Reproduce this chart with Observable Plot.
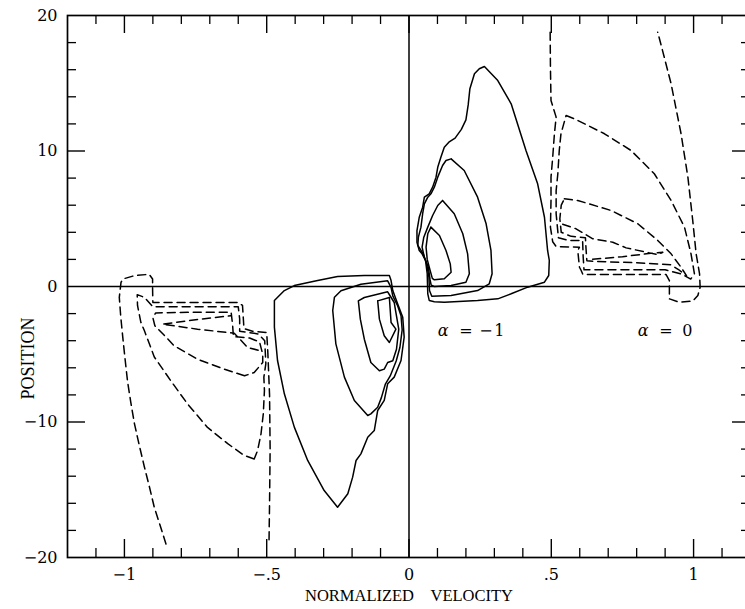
<!DOCTYPE html>
<html>
<head>
<meta charset="utf-8">
<script src="https://cdn.jsdelivr.net/npm/d3@7"></script>
<script src="https://cdn.jsdelivr.net/npm/@observablehq/plot@0.6"></script>
<style>
  html, body { margin: 0; padding: 0; background: #fff; }
  svg { display: block; }
</style>
</head>
<body>
<div id="chart"></div>
<script>
// ---- axis ticks ----
const xMajor = [-1, -0.5, 0, 0.5, 1];
const xMinor = [-1.1, -0.9, -0.8, -0.7, -0.6, -0.4, -0.3, -0.2, -0.1, 0.1, 0.2, 0.3, 0.4, 0.6, 0.7, 0.8, 0.9, 1.1];
const yLabels = [-20, -10, 0, 10, 20];
const yMajor = [-10, 10];
const yMinor = [-18, -16, -14, -12, -8, -6, -4, -2, 2, 4, 6, 8, 12, 14, 16, 18];

// ---- alpha = -1 contours (solid), [velocity, position] ----
const S1 = [[0.265,16.24],[0.247,16.07],[0.230,15.70],[0.214,14.6],[0.208,13.4],[0.200,12.3],[0.184,11.6],[0.162,10.95],[0.140,10.65],[0.124,10.28],[0.112,9.54],[0.101,8.80],[0.095,8.07],[0.083,7.33],[0.071,6.84],[0.054,6.59],[0.048,5.85],[0.036,5.11],[0.028,4.13],[0.028,3.27],[0.036,2.66],[0.046,2.41],[0.058,1.92],[0.064,0.94],[0.066,-0.54],[0.071,-1.03],[0.089,-1.12],[0.124,-1.16],[0.241,-1.03],[0.312,-0.91],[0.359,-0.54],[0.417,-0.05],[0.476,0.32],[0.491,0.81],[0.493,1.92],[0.487,2.66],[0.476,5.11],[0.452,7.58],[0.411,10.04],[0.359,13.48],[0.312,15.20],[0.265,16.24]];
const S2 = [[0.148,9.42],[0.130,9.30],[0.118,8.93],[0.101,8.07],[0.089,7.33],[0.077,6.84],[0.066,6.59],[0.054,6.10],[0.048,5.37],[0.042,4.38],[0.033,3.64],[0.031,3.03],[0.050,2.41],[0.062,1.67],[0.070,0.69],[0.072,-0.30],[0.080,-0.72],[0.148,-0.66],[0.241,-0.30],[0.282,0.20],[0.292,0.94],[0.288,2.66],[0.271,4.63],[0.241,6.59],[0.194,8.56],[0.148,9.42]];
const S3 = [[0.118,6.35],[0.101,5.98],[0.083,5.24],[0.066,4.38],[0.052,3.64],[0.046,2.90],[0.054,2.16],[0.068,1.42],[0.074,0.50],[0.078,0.10],[0.089,0.00],[0.148,0.07],[0.200,0.32],[0.212,0.94],[0.206,2.41],[0.189,3.89],[0.159,5.37],[0.118,6.35]];
const S4 = [[0.077,4.38],[0.066,3.89],[0.060,2.90],[0.064,2.00],[0.074,1.20],[0.082,0.60],[0.089,0.49],[0.124,0.57],[0.148,1.05],[0.145,1.67],[0.130,2.66],[0.107,3.76],[0.077,4.38]];
const N1 = [[-0.473,-1.03],[-0.438,-0.30],[-0.403,0.07],[-0.321,0.44],[-0.251,0.74],[-0.157,0.81],[-0.069,0.81],[-0.063,0.44],[-0.057,-0.30],[-0.040,-1.28],[-0.022,-2.27],[-0.017,-3.74],[-0.028,-5.46],[-0.052,-6.69],[-0.075,-7.18],[-0.087,-8.41],[-0.110,-9.15],[-0.122,-10.63],[-0.145,-11.12],[-0.169,-12.35],[-0.186,-12.84],[-0.198,-14.07],[-0.215,-15.30],[-0.251,-16.29],[-0.298,-15.06],[-0.356,-12.84],[-0.403,-10.38],[-0.438,-7.92],[-0.462,-5.46],[-0.473,-3.00],[-0.473,-1.03]];
const N2 = [[-0.145,-9.52],[-0.192,-8.41],[-0.227,-6.69],[-0.257,-4.23],[-0.268,-1.77],[-0.262,-0.79],[-0.239,-0.32],[-0.169,0.17],[-0.075,0.42],[-0.063,-0.07],[-0.057,-0.69],[-0.040,-1.42],[-0.028,-2.16],[-0.024,-3.20],[-0.032,-4.50],[-0.045,-5.50],[-0.066,-6.60],[-0.083,-7.20],[-0.097,-8.20],[-0.110,-8.91],[-0.134,-9.40],[-0.145,-9.52]];
const N3 = [[-0.104,-6.22],[-0.134,-5.61],[-0.157,-3.89],[-0.171,-2.41],[-0.178,-1.06],[-0.157,-0.81],[-0.075,-0.39],[-0.066,-0.70],[-0.052,-1.18],[-0.046,-1.92],[-0.036,-3.15],[-0.044,-4.63],[-0.057,-5.48],[-0.075,-5.61],[-0.087,-6.10],[-0.104,-6.22]];
const N4 = [[-0.110,-1.06],[-0.069,-0.81],[-0.063,-2.66],[-0.046,-3.15],[-0.069,-4.13],[-0.087,-3.64],[-0.104,-2.41],[-0.110,-1.06]];

// ---- alpha = 0 contours (dashed), [velocity, position] ----
const RD1 = [[0.496,18.77],[0.497,16.19],[0.499,13.73],[0.517,12.50],[0.511,11.27],[0.505,9.54],[0.499,8.07],[0.499,6.35],[0.497,4.38],[0.505,3.30],[0.517,2.95],[0.599,2.90],[0.593,2.66],[0.599,1.42],[0.605,1.18],[0.611,0.89],[0.903,0.89],[0.915,0.44],[0.915,-0.91],[0.950,-1.16],[0.997,-1.08],[1.015,-0.66],[1.023,-0.05],[1.021,0.94],[1.009,2.41],[0.997,4.87],[0.980,8.07],[0.956,11.27],[0.921,14.96],[0.897,16.92],[0.874,18.77]];
const RD2 = [[0.552,12.62],[0.581,12.38],[0.687,11.27],[0.780,10.04],[0.862,8.32],[0.921,6.35],[0.968,4.38],[0.991,2.41],[1.003,0.94],[0.990,0.55],[0.960,0.90],[0.900,1.23],[0.750,1.23],[0.615,1.23],[0.612,2.20],[0.610,3.40],[0.560,3.40],[0.525,3.60],[0.517,5.37],[0.517,7.08],[0.523,8.32],[0.528,10.04],[0.534,11.27],[0.552,12.62]];
const RD3 = [[0.546,6.47],[0.593,6.35],[0.710,5.61],[0.804,4.63],[0.874,3.40],[0.921,2.41],[0.956,1.42],[0.975,0.80],[0.950,1.20],[0.920,1.60],[0.800,1.75],[0.660,1.85],[0.625,1.90],[0.622,2.80],[0.620,3.60],[0.570,3.70],[0.535,4.00],[0.530,5.00],[0.535,6.00],[0.546,6.47]];
const RD4 = [[0.540,4.60],[0.587,4.26],[0.646,3.52],[0.716,3.27],[0.763,2.85],[0.874,2.35],[0.892,2.53],[0.850,2.45],[0.750,2.20],[0.640,2.00]];
const LD1 = [[-0.854,-19.0],[-0.875,-17.6],[-0.895,-16.3],[-0.912,-14.8],[-0.930,-13.3],[-0.948,-11.7],[-0.965,-10.1],[-0.978,-8.5],[-0.989,-7.0],[-0.998,-5.3],[-1.006,-3.7],[-1.013,-2.2],[-1.018,-0.8],[-1.012,0.30],[-1.006,0.55],[-0.965,0.80],[-0.913,0.90],[-0.901,0.55],[-0.901,-0.20],[-0.900,-1.18],[-0.750,-1.18],[-0.600,-1.18],[-0.585,-1.40],[-0.580,-3.10],[-0.550,-3.30],[-0.500,-3.40],[-0.496,-4.90],[-0.490,-8.00],[-0.488,-12.0],[-0.490,-16.0],[-0.492,-19.0]];
const LD2 = [[-0.544,-12.73],[-0.579,-12.47],[-0.637,-11.60],[-0.708,-10.40],[-0.778,-8.67],[-0.837,-6.96],[-0.895,-5.20],[-0.930,-3.25],[-0.942,-2.66],[-0.954,-1.40],[-0.955,-0.60],[-0.930,-0.80],[-0.900,-1.50],[-0.750,-1.50],[-0.600,-1.50],[-0.595,-2.40],[-0.595,-3.30],[-0.530,-3.50],[-0.507,-4.00],[-0.503,-5.70],[-0.510,-6.69],[-0.508,-7.68],[-0.512,-9.40],[-0.520,-10.87],[-0.532,-12.10],[-0.544,-12.73]];
const LD3 = [[-0.578,-6.59],[-0.649,-6.10],[-0.743,-5.37],[-0.825,-4.38],[-0.860,-3.60],[-0.893,-2.90],[-0.900,-2.30],[-0.890,-1.95],[-0.750,-1.90],[-0.625,-1.90],[-0.620,-2.80],[-0.617,-3.70],[-0.560,-3.80],[-0.525,-4.10],[-0.514,-5.00],[-0.514,-5.61],[-0.544,-6.35],[-0.578,-6.59]];
const LD4 = [[-0.530,-4.70],[-0.567,-4.50],[-0.614,-3.45],[-0.743,-3.15],[-0.866,-2.78],[-0.750,-2.45],[-0.626,-2.16]];

// ---- labels ----
const alphaLabels = [
  {v: 0.101, pos: -3.3, sym: "α", rest: "= \u200A−\u200A1"},
  {v: 0.804, pos: -3.3, sym: "α", rest: "=\u2002\u200A0"}
];
const xTitle = ["NORMALIZED\u2003VELOCITY"];
const yTitle = ["POSITION"];

const toRows = (curves, tag) => curves.flatMap((c, i) => c.map(([v, p]) => ({v, p, id: tag + i})));
const solidRows = toRows([S1, S2, S3, S4, N1, N2, N3, N4], "s");
const dashedRows = toRows([RD1, RD2, RD3, RD4, LD1, LD2, LD3, LD4], "d");

const W = 745, H = 609, mL = 67, mR = -5, mT = 15, mB = 52;
const fw = W - mL - mR, fh = H - mT - mB;
const fmtX = d => d === 0 ? "0" : (d < 0 ? "−" : "") + String(Math.abs(d)).replace(/^0\./, ".");
const fmtY = d => d < 0 ? "−" + Math.abs(d) : String(d);
const numFont = "'DejaVu Serif', serif";
const titleFont = "'Liberation Serif', serif";

const chart = Plot.plot({
  width: W, height: H,
  marginLeft: mL, marginRight: mR, marginTop: mT, marginBottom: mB,
  x: {domain: [-1.2, 1.2]},
  y: {domain: [-20, 20]},
  style: {fontFamily: numFont, fontSize: "16px", background: "white", color: "black"},
  marks: [
    Plot.ruleY([0], {stroke: "black", strokeWidth: 1.5}),
    Plot.ruleX([0], {stroke: "black", strokeWidth: 1.5}),
    // inward ticks
    Plot.ruleX(xMinor, {x: d => d, insetTop: fh - 9, stroke: "black", strokeWidth: 1.3}),
    Plot.ruleX(xMinor, {x: d => d, insetBottom: fh - 9, stroke: "black", strokeWidth: 1.3}),
    Plot.ruleX(xMajor, {x: d => d, insetTop: fh - 18, stroke: "black", strokeWidth: 1.4}),
    Plot.ruleX(xMajor, {x: d => d, insetBottom: fh - 18, stroke: "black", strokeWidth: 1.4}),
    Plot.ruleY(yMinor, {y: d => d, insetRight: fw - 9, stroke: "black", strokeWidth: 1.3}),
    Plot.ruleY(yMinor, {y: d => d, insetLeft: fw - 9, stroke: "black", strokeWidth: 1.3}),
    Plot.ruleY(yMajor, {y: d => d, insetRight: fw - 18, stroke: "black", strokeWidth: 1.4}),
    Plot.ruleY(yMajor, {y: d => d, insetLeft: fw - 18, stroke: "black", strokeWidth: 1.4}),
    Plot.frame({stroke: "black", strokeWidth: 1.7}),
    Plot.axisX({ticks: xMajor, tickFormat: fmtX, tickSize: 0, tickPadding: 11, label: null, fontSize: 16, fontFamily: numFont}),
    Plot.axisY({ticks: yLabels, tickFormat: fmtY, tickSize: 0, tickPadding: 10, label: null, fontSize: 16, fontFamily: numFont}),
    // contours
    Plot.line(solidRows, {x: "v", y: "p", z: "id", stroke: "black", strokeWidth: 1.5}),
    Plot.line(dashedRows, {x: "v", y: "p", z: "id", stroke: "black", strokeWidth: 1.5, strokeDasharray: "8,5"}),
    // labels
    Plot.text(alphaLabels, {x: "v", y: "pos", text: "sym", fontStyle: "italic", textAnchor: "start", fontSize: 16, fontFamily: numFont}),
    Plot.text(alphaLabels, {x: "v", y: "pos", text: "rest", textAnchor: "start", dx: 21.5, fontSize: 16, fontFamily: numFont}),
    Plot.text(xTitle, {text: d => d, frameAnchor: "bottom", textAnchor: "middle", lineAnchor: "bottom", dy: 43, fontSize: 16.5, fontFamily: titleFont}),
    Plot.text(yTitle, {text: d => d, frameAnchor: "left", textAnchor: "middle", lineAnchor: "bottom", rotate: -90, dx: -34, dy: 72, fontSize: 18, fontFamily: titleFont})
  ]
});
document.getElementById("chart").appendChild(chart);
</script>
</body>
</html>
